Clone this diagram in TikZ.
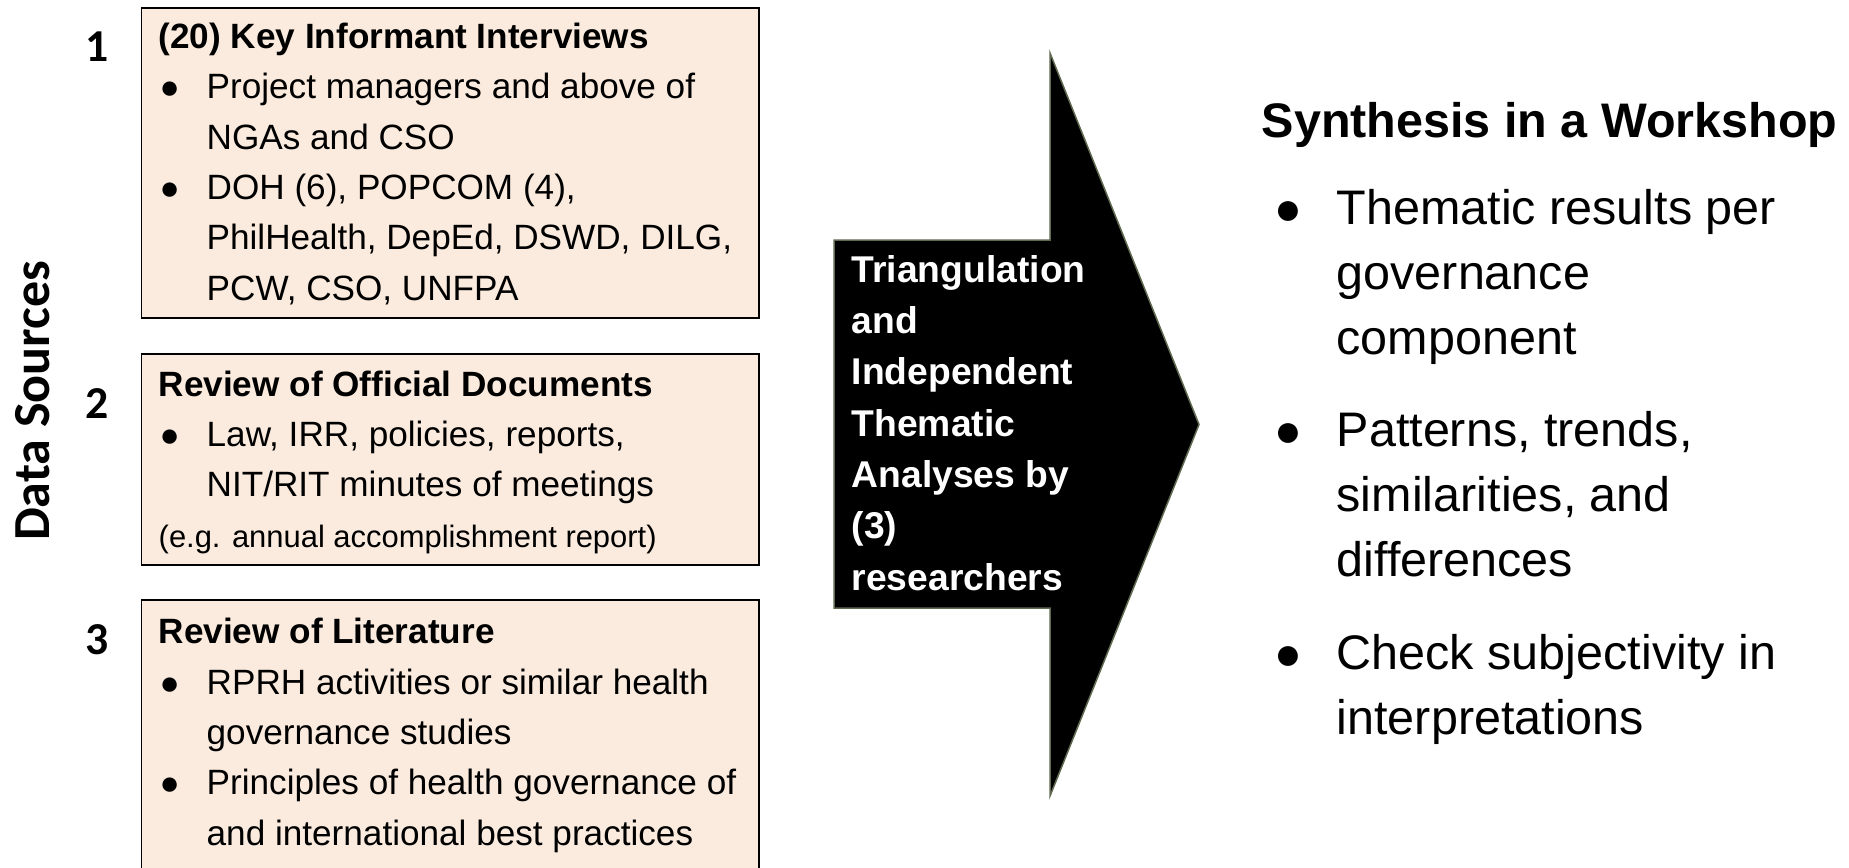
\documentclass[tikz,border=0pt]{standalone}
\usepackage{fontspec}
\usepackage{graphicx}
\setmainfont{Liberation Sans}
\newfontfamily\calibri{Carlito}
\usepackage{xcolor}
\usepackage{tikz}
\usetikzlibrary{positioning}

\definecolor{peach}{RGB}{250,235,222}
\definecolor{arrowedge}{RGB}{95,105,80}

% bullets and hanging indents
\newcommand{\blt}{\makebox[4.8mm][l]{\hspace{0.1mm}\scalebox{0.95}{●}}}
\newcommand{\ind}{\hspace*{4.8mm}}
\newcommand{\rblt}{\makebox[6.2mm][l]{\scalebox{0.95}{●}}}
\newcommand{\rind}{\hspace*{6.2mm}}

\begin{document}
\begin{tikzpicture}[x=0.1mm,y=-0.1mm,
    srcbox/.style={draw=black,line width=0.15mm,fill=peach},
    srctext/.style={anchor=base west,inner sep=0,align=left,font=\fontsize{10}{14.3}\selectfont},
    srcnum/.style={font=\calibri\bfseries\fontsize{13}{13}\selectfont},
    arrowshape/.style={fill=black,draw=arrowedge,line width=0.15mm},
    arrowtext/.style={anchor=base west,inner sep=0,align=left,text=white,font=\bfseries\fontsize{10.6}{14.6}\selectfont},
    outtext/.style={anchor=base west,inner sep=0,align=left,font=\fontsize{13.8}{18.5}\selectfont}]
		\useasboundingbox (0,0) rectangle (1849,867);
		\clip (0,0) rectangle (1849,867);
		
		% Side title and numbers
		\node[rotate=90,font=\calibri\bfseries\fontsize{14.8}{14.8}\selectfont] (datasrc) at (33,401) {Data Sources};
		\node[srcnum] (n1) at (97,47) {1};
		\node[srcnum] (n2) at (97,403) {2};
		\node[srcnum] (n3) at (97,640) {3};
		
		% Source boxes (text nodes sit on the baseline of their last line)
		\draw[srcbox] (141.5,8) rectangle (759,318);
		\draw[srcbox] (141.5,354) rectangle (759,565);
		\draw[srcbox] (141.5,600) rectangle (759,900);
		
		\node[srctext] (kii) at (158,300) {\textbf{(20) Key Informant Interviews}\\
			\blt Project managers and above of\\
			\ind NGAs and CSO\\
			\blt DOH (6), POPCOM (4),\\
			\ind PhilHealth, DepEd, DSWD, DILG,\\
			\ind PCW, CSO, UNFPA};
		\node[srctext] (docs) at (158,547) {\textbf{Review of Official Documents}\\
			\blt Law, IRR, policies, reports,\\
			\ind NIT/RIT minutes of meetings\\
			{\fontsize{8.8}{10}\selectfont (e.g. annual accomplishment report)}};
		\node[srctext] (lit) at (158,845) {\textbf{Review of Literature}\\
			\blt RPRH activities or similar health\\
			\ind governance studies\\
			\blt Principles of health governance of\\
			\ind and international best practices};
		
		% Big arrow
		\draw[arrowshape] (834,240) -- (1050,240) -- (1050,53) -- (1199,424.5)
			-- (1050,796) -- (1050,608) -- (834,608) -- cycle;
		\node[arrowtext] (triang) at (851,590) {Triangulation\\and\\Independent\\Thematic\\Analyses by\\(3)\\researchers};
		
		% Synthesis
		\node[outtext,font=\bfseries\fontsize{13.8}{18.5}\selectfont] (synth) at (1261,137) {Synthesis in a Workshop};
		\node[outtext] (results) at (1274,734) {\rblt Thematic results per\\
			\rind governance\\
			\rind component\\[2.7mm]
			\rblt Patterns, trends,\\
			\rind similarities, and\\
			\rind differences\\[2.7mm]
			\rblt Check subjectivity in\\
			\rind interpretations};
	\end{tikzpicture}
\end{document}
